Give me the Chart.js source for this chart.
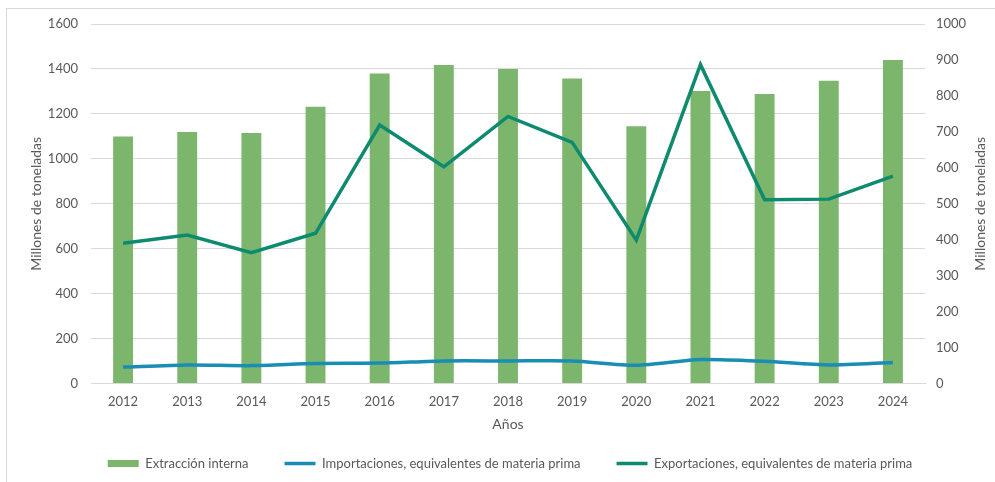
<!DOCTYPE html>
<html lang="es">
<head>
<meta charset="utf-8">
<title>Extracción interna, importaciones y exportaciones</title>
<script src="https://cdn.jsdelivr.net/npm/chart.js@4.4.1/dist/chart.umd.min.js"></script>
<style>
    html, body { margin: 0; padding: 0; background: #ffffff; }
    #wrap { position: relative; width: 995px; height: 482px; overflow: hidden; }
    #frame {
        position: absolute; left: 6px; top: 8px; width: 1000px; height: 500px;
        border-left: 1px solid #d9d9d9; border-top: 1px solid #d9d9d9;
    }
    #chart { position: absolute; left: 0; top: 0; }
</style>
</head>
<body>
<div id="wrap">
    <div id="frame"></div>
    <canvas id="chart" width="995" height="482"></canvas>
</div>
<script>
// Series (millones de toneladas)
const years = ['2012', '2013', '2014', '2015', '2016', '2017', '2018', '2019', '2020', '2021', '2022', '2023', '2024'];
const extraccion = [1100, 1120, 1115, 1232, 1380, 1418, 1400, 1357, 1145, 1302, 1288, 1348, 1440];
const importaciones = [46, 52, 50, 56, 57, 63, 63, 63, 51, 67, 62, 52, 59];
const exportaciones = [390, 413, 364, 418, 719, 603, 743, 671, 399, 887, 511, 513, 577];

const FONT = 'Lato, "Open Sans", sans-serif';
const GREY = '#595959';
const GRID = '#d9d9d9';
const LEGEND_PAD = 36;

// Secondary axis title, rotated the same way as the primary one
const rightTitle = {
    id: 'rightTitle',
    afterDraw(chart) {
        const { ctx, chartArea } = chart;
        ctx.save();
        ctx.translate(980, (chartArea.top + chartArea.bottom) / 2);
        ctx.rotate(-Math.PI / 2);
        ctx.font = '14px ' + FONT;
        ctx.fillStyle = GREY;
        ctx.textAlign = 'center';
        ctx.textBaseline = 'middle';
        ctx.fillText('Millones de toneladas', 0, 0);
        ctx.restore();
    }
};

// Wide gaps between legend items, but a short legend row centred under the plot
const legendHeight = {
    id: 'legendHeight',
    beforeLayout(chart) {
        const legend = chart.legend;
        if (!legend || legend._patched) return;
        const fit = legend.fit;
        legend.fit = function () {
            fit.call(this);
            this.height = 49;
        };
        legend._patched = true;
    },
    afterLayout(chart) {
        const legend = chart.legend;
        const shiftY = LEGEND_PAD - 24;
        const shiftX = (chart.chartArea.left + chart.chartArea.right) / 2 - (legend.left + legend.right) / 2 + 2;
        legend.top -= shiftY;
        legend.bottom -= shiftY;
        legend.left += shiftX;
        legend.right += shiftX;
    }
};

const plainNumber = (v) => String(v);

new Chart(document.getElementById('chart'), {
    data: {
        labels: years,
        datasets: [
            {
                type: 'bar',
                label: 'Extracción interna',
                data: extraccion,
                backgroundColor: '#7cb66c',
                borderWidth: 0,
                barPercentage: 0.31,
                categoryPercentage: 1,
                yAxisID: 'y',
                pointStyle: 'rect',
                order: 1
            },
            {
                type: 'line',
                label: 'Importaciones, equivalentes de materia prima',
                data: importaciones,
                borderColor: '#1a8db5',
                backgroundColor: '#1a8db5',
                borderWidth: 3.5,
                pointRadius: 0,
                tension: 0.25,
                yAxisID: 'y1',
                pointStyle: 'line',
                order: 0
            },
            {
                type: 'line',
                label: 'Exportaciones, equivalentes de materia prima',
                data: exportaciones,
                borderColor: '#0e8a6e',
                backgroundColor: '#0e8a6e',
                borderWidth: 3.5,
                pointRadius: 0,
                tension: 0,
                yAxisID: 'y1',
                pointStyle: 'line',
                order: 0
            }
        ]
    },
    options: {
        responsive: false,
        animation: false,
        layout: { padding: { top: 24, left: 0, right: 0, bottom: 0 } },
        plugins: {
            tooltip: { enabled: false },
            legend: {
                position: 'bottom',
                labels: {
                    usePointStyle: true,
                    pointStyleWidth: 31,
                    boxHeight: 7,
                    padding: LEGEND_PAD,
                    color: GREY,
                    font: { family: FONT, size: 13 },
                    sort: (a, b) => a.datasetIndex - b.datasetIndex
                }
            }
        },
        scales: {
            x: {
                grid: { display: false, drawTicks: false },
                border: { display: true, color: GRID },
                ticks: { color: GREY, font: { family: FONT, size: 13 }, padding: 10 },
                title: {
                    display: true,
                    text: 'Años',
                    color: GREY,
                    font: { family: FONT, size: 14 },
                    padding: { top: -3, bottom: 0 }
                }
            },
            y: {
                position: 'left',
                min: 0,
                max: 1600,
                ticks: { stepSize: 200, color: GREY, font: { family: FONT, size: 13 }, padding: 13, callback: plainNumber },
                grid: { color: GRID, drawTicks: false },
                border: { display: false },
                title: {
                    display: true,
                    text: 'Millones de toneladas',
                    color: GREY,
                    font: { family: FONT, size: 14 },
                    padding: { top: 28, bottom: 0 }
                },
                afterFit: (scale) => { scale.width = 91; }
            },
            y1: {
                position: 'right',
                min: 0,
                max: 1000,
                ticks: { stepSize: 100, color: GREY, font: { family: FONT, size: 13 }, padding: 11, callback: plainNumber },
                grid: { drawOnChartArea: false, drawTicks: false },
                border: { display: false },
                afterFit: (scale) => { scale.width = 70; }
            }
        }
    },
    plugins: [rightTitle, legendHeight]
});
</script>
</body>
</html>
